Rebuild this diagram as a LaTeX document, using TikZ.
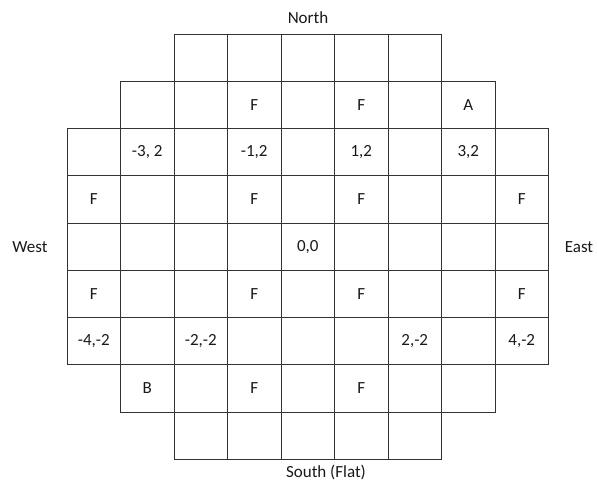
\documentclass[tikz,border=0pt]{standalone}
\usepackage{fontspec}
\setmainfont{Carlito}
\begin{document}
\begin{tikzpicture}[x=1pt,y=-1pt,
  cell/.style={draw=black!80,line width=0.9pt,minimum width=53.5pt,minimum height=47.25pt,inner sep=0pt,outer sep=0pt},
  lbl/.style={text=black!90,font=\fontsize{17}{20}\selectfont,inner sep=0pt},
  dir/.style={text=black!90,font=\fontsize{17}{20}\selectfont,inner sep=0pt}]
\useasboundingbox (0,0) rectangle (597,486);
\foreach \r/\cmin/\cmax in {0/2/6,1/1/7,2/0/8,3/0/8,4/0/8,5/0/8,6/0/8,7/1/7,8/2/6}{
  \foreach \c in {\cmin,...,\cmax}{
    \node[cell] (c\r-\c) at ({67+53.5*(\c+0.5)},{34+47.25*(\r+0.5)}) {};
  }
}
% row 1
\node[lbl] (t1-3) at (c1-3) {F};
\node[lbl] (t1-5) at (c1-5) {F};
\node[lbl] (t1-7) at (c1-7) {A};
% row 2
\node[lbl] (t2-1) at (c2-1) {-3, 2};
\node[lbl] (t2-3) at (c2-3) {-1,2};
\node[lbl] (t2-5) at (c2-5) {1,2};
\node[lbl] (t2-7) at (c2-7) {3,2};
% row 3
\node[lbl] (t3-0) at (c3-0) {F};
\node[lbl] (t3-3) at (c3-3) {F};
\node[lbl] (t3-5) at (c3-5) {F};
\node[lbl] (t3-8) at (c3-8) {F};
% row 4
\node[lbl] (t4-4) at (c4-4) {0,0};
% row 5
\node[lbl] (t5-0) at (c5-0) {F};
\node[lbl] (t5-3) at (c5-3) {F};
\node[lbl] (t5-5) at (c5-5) {F};
\node[lbl] (t5-8) at (c5-8) {F};
% row 6
\node[lbl] (t6-0) at (c6-0) {-4,-2};
\node[lbl] (t6-2) at (c6-2) {-2,-2};
\node[lbl] (t6-6) at (c6-6) {2,-2};
\node[lbl] (t6-8) at (c6-8) {4,-2};
% row 7
\node[lbl] (t7-1) at (c7-1) {B};
\node[lbl] (t7-3) at (c7-3) {F};
\node[lbl] (t7-5) at (c7-5) {F};
% directions
\node[dir] (north) at (308,18) {North};
\node[dir] (south) at (326,472) {South (Flat)};
\node[dir] (west) at (30,247) {West};
\node[dir] (east) at (579,247) {East};
\end{tikzpicture}
\end{document}
